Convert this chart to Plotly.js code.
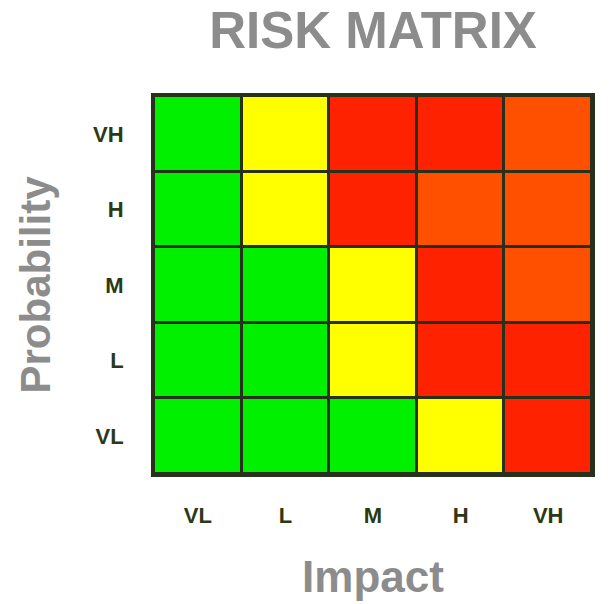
<!DOCTYPE html>
<html>
<head>
<meta charset="utf-8">
<script src="https://cdn.plot.ly/plotly-3.0.1.min.js"></script>
<style>html,body{margin:0;padding:0;background:#fff;}#chart{width:611px;height:604px;}</style>
</head>
<body>
<div id="chart"></div>
<script>
// Categories
const impactLevels = ['VL', 'L', 'M', 'H', 'VH'];
const probabilityLevels = ['VL', 'L', 'M', 'H', 'VH'];
// Risk level codes per row (probability VL..VH), columns impact VL..VH
// 0 = low (green), 1 = medium (yellow), 2 = high (red), 3 = very high (orange-red)
const riskVL = [0, 0, 0, 1, 2];
const riskL  = [0, 0, 1, 2, 2];
const riskM  = [0, 0, 1, 2, 3];
const riskH  = [0, 1, 2, 3, 3];
const riskVH = [0, 1, 2, 2, 3];
const riskColors = ['#00f000', '#ffff00', '#ff2200', '#ff5000'];

const z = [riskVL, riskL, riskM, riskH, riskVH];
const n = riskColors.length;
const colorscale = [];
riskColors.forEach((c, i) => {
  colorscale.push([i / n, c]);
  colorscale.push([(i + 1) / n, c]);
});

const lineCol = '#26301a';
const tickFont = {family: 'Liberation Sans, Arial, sans-serif', size: 22, color: '#2b3a14', weight: 'bold'};
const xTitleFont = {family: 'Liberation Sans, Arial, sans-serif', size: 44, color: '#8c8c8c', weight: 'bold'};
const yTitleFont = {family: 'Liberation Sans, Arial, sans-serif', size: 42, color: '#8c8c8c', weight: 'bold'};

Plotly.newPlot('chart', [{
  type: 'heatmap',
  x: impactLevels,
  y: probabilityLevels,
  z: z,
  zmin: 0,
  zmax: n,
  colorscale: colorscale,
  showscale: false,
  xgap: 3,
  ygap: 3,
  hoverinfo: 'skip'
}], {
  width: 611,
  height: 604,
  margin: {l: 154, r: 19, t: 96, b: 130},
  paper_bgcolor: '#ffffff',
  plot_bgcolor: lineCol,
  title: {
    text: 'RISK MATRIX',
    font: {family: 'Liberation Sans, Arial, sans-serif', size: 51, color: '#8c8c8c', weight: 'bold'},
    x: 0.5, xref: 'paper', xanchor: 'center',
    y: 1 - 30 / 604, yref: 'container', yanchor: 'middle'
  },
  xaxis: {
    type: 'category',
    showline: true, mirror: true, linecolor: lineCol, linewidth: 3,
    showgrid: false, zeroline: false,
    ticks: 'outside', ticklen: 20, tickcolor: 'rgba(0,0,0,0)',
    tickfont: tickFont,
    title: {text: 'Impact', font: xTitleFont, standoff: 34},
    fixedrange: true
  },
  yaxis: {
    type: 'category',
    showline: true, mirror: true, linecolor: lineCol, linewidth: 3,
    showgrid: false, zeroline: false,
    ticks: 'outside', ticklen: 23, tickcolor: 'rgba(0,0,0,0)',
    tickfont: tickFont,
    title: {text: 'Probability', font: yTitleFont, standoff: 30},
    fixedrange: true
  }
}, {displayModeBar: false, staticPlot: true});
</script>
</body>
</html>
